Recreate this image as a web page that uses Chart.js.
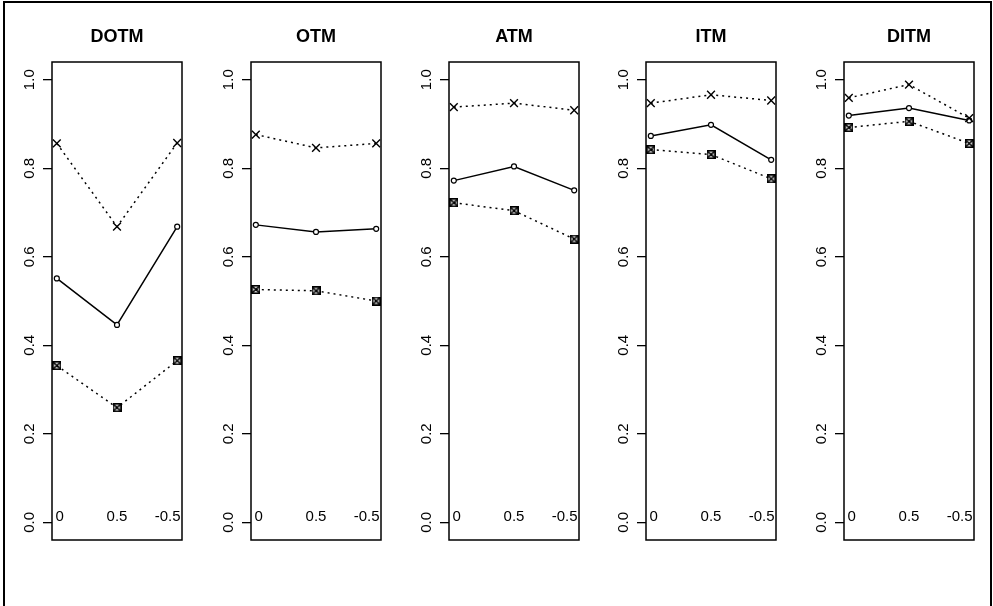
<!DOCTYPE html>
<html lang="en">
<head>
<meta charset="UTF-8">
<title>DOTM OTM ATM ITM DITM</title>
<script src="https://cdn.jsdelivr.net/npm/chart.js"></script>
<style>
  html, body { margin: 0; padding: 0; background: #fff; }
  body { width: 993px; height: 606px; position: relative; overflow: hidden; }
  #frame { position: absolute; left: 3px; top: 1px; width: 989px; height: 700px;
           border: 2px solid #000; box-sizing: border-box; }
  .panel { position: absolute; top: 0; }
</style>
</head>
<body>
<div id="frame"></div>
<canvas class="panel" id="c0" width="198" height="606" style="left:0px"></canvas>
<canvas class="panel" id="c1" width="198" height="606" style="left:199px"></canvas>
<canvas class="panel" id="c2" width="198" height="606" style="left:397px"></canvas>
<canvas class="panel" id="c3" width="198" height="606" style="left:594px"></canvas>
<canvas class="panel" id="c4" width="198" height="606" style="left:792px"></canvas>

<script>
  // panel titles, category labels and y ticks
  const panelTitles = ["DOTM", "OTM", "ATM", "ITM", "DITM"];
  const categories = ["0", "0.5", "-0.5"];
  const yTicks = [0, 0.2, 0.4, 0.6, 0.8, 1.0];

  // values: upper (x, dotted), middle (o, solid), lower (boxed x, dotted)
  const dotmUpper = [0.856, 0.668, 0.857];
  const dotmMid   = [0.551, 0.446, 0.668];
  const dotmLower = [0.354, 0.259, 0.365];

  const otmUpper = [0.876, 0.846, 0.856];
  const otmMid   = [0.672, 0.656, 0.663];
  const otmLower = [0.526, 0.523, 0.500];

  const atmUpper = [0.938, 0.947, 0.931];
  const atmMid   = [0.772, 0.804, 0.750];
  const atmLower = [0.722, 0.704, 0.640];

  const itmUpper = [0.947, 0.966, 0.953];
  const itmMid   = [0.873, 0.898, 0.819];
  const itmLower = [0.842, 0.831, 0.776];

  const ditmUpper = [0.959, 0.989, 0.913];
  const ditmMid   = [0.919, 0.936, 0.908];
  const ditmLower = [0.892, 0.906, 0.856];

  const panelData = [
    [dotmUpper, dotmMid, dotmLower],
    [otmUpper, otmMid, otmLower],
    [atmUpper, atmMid, atmLower],
    [itmUpper, itmMid, itmLower],
    [ditmUpper, ditmMid, ditmLower]
  ];

  const FONT = '"Liberation Sans", Arial, Helvetica, sans-serif';

  // R-like pch 7 (square with an x inside)
  function boxCross() {
    const c = document.createElement('canvas');
    c.width = 9; c.height = 9;
    const g = c.getContext('2d');
    g.strokeStyle = '#000';
    g.lineWidth = 1.6;
    g.strokeRect(0.8, 0.8, 7.4, 7.4);
    g.beginPath();
    g.moveTo(1.2, 1.2); g.lineTo(7.8, 7.8);
    g.moveTo(7.8, 1.2); g.lineTo(1.2, 7.8);
    g.stroke();
    return c;
  }
  const boxImg = boxCross();

  const toPoints = arr => arr.map((v, i) => ({ x: i + 1, y: v }));

  const panelDecor = {
    id: 'panelDecor',
    afterDraw(chart, args, opts) {
      const { ctx, chartArea: a, scales: { x, y } } = chart;
      ctx.save();
      ctx.strokeStyle = '#000';
      ctx.lineWidth = 1.5;
      ctx.strokeRect(a.left, a.top, a.right - a.left, a.bottom - a.top);

      ctx.fillStyle = '#000';
      ctx.font = 'bold 18px ' + FONT;
      ctx.textAlign = 'center';
      ctx.textBaseline = 'alphabetic';
      ctx.fillText(opts.title, (a.left + a.right) / 2, 42);

      // rotated y tick labels
      ctx.font = '15px ' + FONT;
      yTicks.forEach(v => {
        ctx.save();
        ctx.translate(a.left - 18.5, y.getPixelForValue(v));
        ctx.rotate(-Math.PI / 2);
        ctx.textAlign = 'center';
        ctx.fillText(v.toFixed(1), 0, 0);
        ctx.restore();
      });

      // category labels written inside the box at y = 0
      const yb = y.getPixelForValue(0) - 1.5;
      ctx.textAlign = 'left';
      ctx.fillText(categories[0], a.left + 3.5, yb);
      ctx.textAlign = 'center';
      ctx.fillText(categories[1], x.getPixelForValue(2), yb);
      ctx.textAlign = 'right';
      ctx.fillText(categories[2], a.right - 1.5, yb);
      ctx.restore();
    }
  };

  panelTitles.forEach((title, p) => {
    const [upper, mid, lower] = panelData[p];
    new Chart(document.getElementById('c' + p), {
      type: 'line',
      data: {
        datasets: [
          {
            data: toPoints(upper),
            borderColor: '#000', borderWidth: 1.5, borderDash: [2, 4],
            pointStyle: 'crossRot', pointRadius: 5.5, pointBorderWidth: 1.4,
            pointBorderColor: '#000', fill: false, tension: 0
          },
          {
            data: toPoints(mid),
            borderColor: '#000', borderWidth: 1.5,
            pointStyle: 'circle', pointRadius: 2.5, pointBorderWidth: 1.2,
            pointBorderColor: '#000', pointBackgroundColor: '#fff', fill: false, tension: 0
          },
          {
            data: toPoints(lower),
            borderColor: '#000', borderWidth: 1.5, borderDash: [2, 4],
            pointStyle: boxImg, pointRadius: 4.5, fill: false, tension: 0
          }
        ]
      },
      options: {
        responsive: false,
        animation: false,
        events: [],
        layout: { padding: { top: 62, bottom: 66, left: 0, right: 16 } },
        plugins: {
          legend: { display: false },
          tooltip: { enabled: false },
          panelDecor: { title: title }
        },
        scales: {
          x: { type: 'linear', min: 0.92, max: 3.08, display: false },
          y: {
            min: -0.04, max: 1.04,
            afterBuildTicks: s => { s.ticks = yTicks.map(v => ({ value: v })); },
            afterFit: s => { s.width = 52; },
            ticks: { display: false },
            grid: { drawOnChartArea: false, drawTicks: true, tickLength: 9, color: '#000', lineWidth: 1.3 },
            border: { display: false }
          }
        }
      },
      plugins: [panelDecor]
    });
  });
</script>
</body>
</html>
